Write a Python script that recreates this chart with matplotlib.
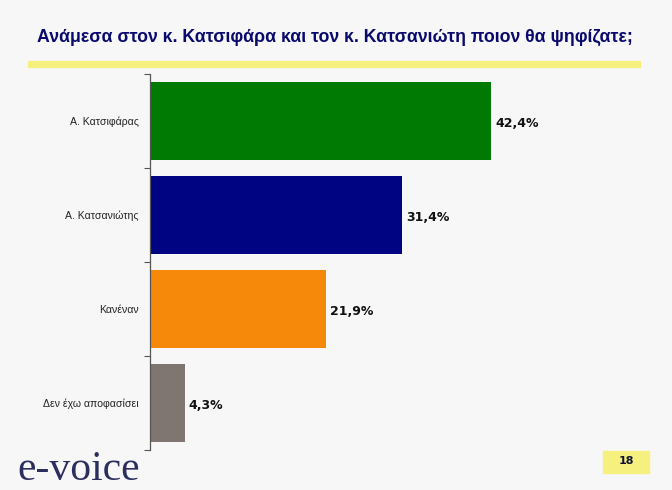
import matplotlib
matplotlib.use("Agg")
import matplotlib.pyplot as plt
from matplotlib.patches import Rectangle

categories = ["Α. Κατσιφάρας", "Α. Κατσανιώτης", "Κανέναν", "Δεν έχω αποφασίσει"]
values = [42.4, 31.4, 21.9, 4.3]
value_labels = ["42,4%", "31,4%", "21,9%", "4,3%"]
colors = ["#017a03", "#000382", "#f7890a", "#7f7672"]
title = "Ανάμεσα στον κ. Κατσιφάρα και τον κ. Κατσανιώτη ποιον θα ψηφίζατε;"
page_number = "18"
logo = "e-voice"

W, H = 672, 490
bg = "#f7f7f7"
fig = plt.figure(figsize=(W / 100, H / 100), dpi=100, facecolor=bg)

# axes in pixel coords
left, right, top, bottom = 150, 640, 74, 450
ax = fig.add_axes([left / W, 1 - bottom / H, (right - left) / W, (bottom - top) / H])
ax.set_facecolor(bg)

n = len(categories)
ypos = list(range(n))
ax.barh(ypos, values, height=0.83, color=colors, edgecolor="none")
ax.set_ylim(n - 0.5, -0.5)
ax.set_xlim(0, (right - left) / 8.04)

for y, v, lab in zip(ypos, values, value_labels):
    ax.annotate(lab, (v, y), xytext=(3, -2), textcoords="offset points",
                ha="left", va="center", fontsize=9, fontweight="bold",
                color="#111111", family="DejaVu Sans")

ax.set_yticks(ypos)
ax.set_yticklabels(categories, fontsize=7.6, color="#222222", family="Liberation Sans")
ax.tick_params(axis="y", length=0, pad=8)
# boundary tick marks
ax.set_yticks([i - 0.5 for i in range(n + 1)], minor=True)
ax.tick_params(axis="y", which="minor", length=4, width=0.8, color="#555555", direction="out")
ax.set_xticks([])
for s in ["top", "right", "bottom"]:
    ax.spines[s].set_visible(False)
ax.spines["left"].set_color("#555555")
ax.spines["left"].set_linewidth(0.9)

# title
fig.text(335 / W, 1 - 37 / H, title, ha="center", va="center", fontsize=12.8,
         fontweight="bold", color="#0a0a6e", family="Liberation Sans")

# yellow rule
fig.patches.append(Rectangle((28 / W, 1 - 67 / H), (640 - 28) / W, 6 / H,
                             transform=fig.transFigure, color="#f6f07e", zorder=0))

# page number box
fig.patches.append(Rectangle((603 / W, 1 - 473 / H), 46 / W, 22 / H,
                             transform=fig.transFigure, color="#f6f07e", zorder=0))
fig.text(626 / W, 1 - 461 / H, page_number, ha="center", va="center",
         fontsize=8, fontweight="bold", color="#111133")

# logo
fig.text(17 / W, 1 - 470 / H, logo, ha="left", va="center", fontsize=30,
         color="#2c2f5e", family="Liberation Serif")

fig.savefig("out.png", dpi=100, facecolor=bg)
